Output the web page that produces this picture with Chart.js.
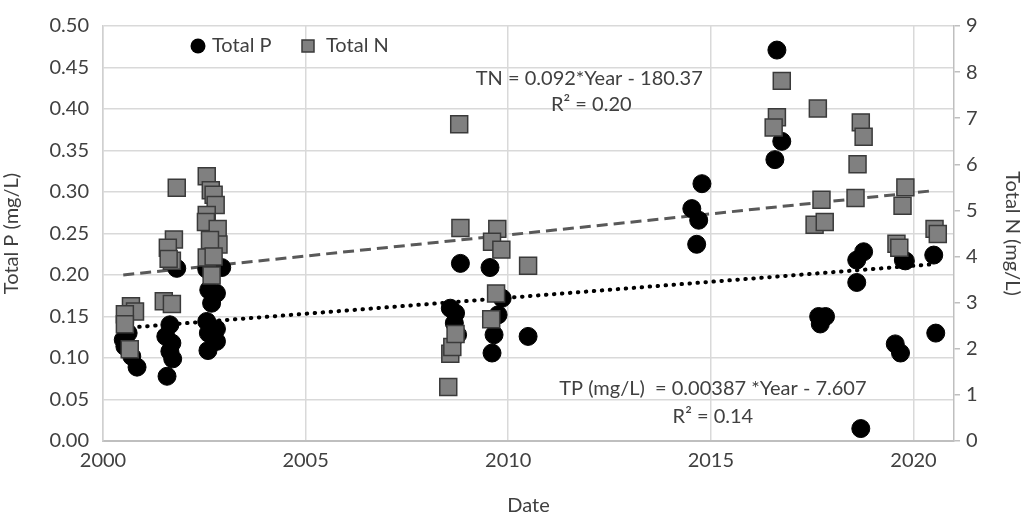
<html>
    <body style="margin:0; background:#fff;">
        <div style="width:1024px; height:518px;">
            <canvas id="myChart" width="1024" height="518"></canvas>
        </div>
    </body>

    <script src="https://cdn.jsdelivr.net/npm/chart.js@4.4.1/dist/chart.umd.min.js"></script>
    <script>
        // Total P samples (decimal year, mg/L)
        const tpYear = [
            2000.50, 2000.54, 2000.71, 2000.84, 2000.62,
            2001.65, 2001.55, 2001.70, 2001.65, 2001.72, 2001.58, 2001.82,
            2002.93, 2002.80, 2002.61, 2002.68, 2002.56, 2002.80, 2002.60, 2002.80, 2002.59, 2002.56,
            2008.82, 2008.57, 2008.70, 2008.67, 2008.75,
            2009.55, 2009.85, 2009.75, 2009.65, 2009.60, 2010.49,
            2014.78, 2014.53, 2014.70, 2014.65,
            2016.63, 2016.75, 2016.58,
            2017.66, 2017.83, 2017.70,
            2018.60, 2018.77, 2018.60, 2018.70,
            2019.55, 2019.68, 2019.75, 2019.80,
            2020.50, 2020.55
        ];
        const tpValue = [
            0.122, 0.114, 0.102, 0.089, 0.130,
            0.140, 0.126, 0.118, 0.108, 0.099, 0.078, 0.208,
            0.209, 0.178, 0.182, 0.166, 0.144, 0.135, 0.130, 0.120, 0.109, 0.207,
            0.214, 0.160, 0.154, 0.142, 0.128,
            0.209, 0.172, 0.152, 0.128, 0.106, 0.126,
            0.310, 0.280, 0.266, 0.237,
            0.471, 0.361, 0.339,
            0.150, 0.150, 0.141,
            0.218, 0.228, 0.191, 0.015,
            0.117, 0.106, 0.218, 0.217,
            0.224, 0.130
        ];

        // Total N samples (decimal year, mg/L)
        const tnYear = [
            2000.69, 2000.79, 2000.54, 2000.54, 2000.66,
            2001.50, 2001.70, 2001.82, 2001.75, 2001.60, 2001.70, 2001.62,
            2002.56, 2002.66, 2002.73, 2002.78, 2002.56, 2002.54, 2002.83, 2002.85, 2002.64, 2002.56, 2002.73, 2002.68,
            2008.79, 2008.82, 2008.52, 2008.57, 2008.62, 2008.70,
            2009.73, 2009.60, 2009.83, 2009.70, 2009.58, 2010.49,
            2016.75, 2016.63, 2016.55, 2017.64,
            2018.70, 2018.77, 2018.62,
            2017.73, 2017.56, 2017.81, 2018.57,
            2019.80, 2019.73, 2019.58, 2019.65,
            2020.52, 2020.60
        ];
        const tnValue = [
            2.92, 2.81, 2.75, 2.53, 1.99,
            3.03, 2.97, 5.49, 4.37, 4.19, 3.91, 3.95,
            5.74, 5.44, 5.34, 5.12, 4.90, 4.75, 4.60, 4.26, 4.36, 3.98, 4.00, 3.59,
            6.87, 4.62, 1.17, 1.89, 2.04, 2.32,
            4.60, 4.32, 4.15, 3.20, 2.64, 3.80,
            7.81, 7.02, 6.80, 7.21,
            6.91, 6.60, 6.00,
            5.23, 4.69, 4.75, 5.27,
            5.50, 5.10, 4.28, 4.19,
            4.60, 4.49
        ];

        // trend line end points
        const tpTrendYear = [2000.5, 2020.5];
        const tpTrendValue = [0.136, 0.213];
        const tnTrendYear = [2000.5, 2020.5];
        const tnTrendValue = [3.60, 5.43];

        const xTicks = [2000, 2005, 2010, 2015, 2020];

        const FONT = 'Lato, "Open Sans", sans-serif';
        const TEXT = '#404040';
        const GRID = '#d9d9d9';

        const pts = (xs, ys) => xs.map((x, i) => ({x: x, y: ys[i]}));

        const data = {
            datasets: [
            {
                label: 'Total P',
                type: 'scatter',
                data: pts(tpYear, tpValue),
                yAxisID: 'y',
                pointStyle: 'circle',
                pointRadius: 9,
                backgroundColor: '#000',
                borderColor: '#000',
                borderWidth: 1,
                order: 2
            },
            {
                label: 'Total N',
                type: 'scatter',
                data: pts(tnYear, tnValue),
                yAxisID: 'y2',
                pointStyle: 'rect',
                pointRadius: 12,
                backgroundColor: '#808080',
                borderColor: '#3a3a3a',
                borderWidth: 1.5,
                order: 1
            },
            {
                label: 'TP trend',
                type: 'line',
                data: pts(tpTrendYear, tpTrendValue),
                yAxisID: 'y',
                borderColor: '#000',
                borderWidth: 4,
                borderDash: [0.5, 7.5],
                borderCapStyle: 'round',
                pointRadius: 0,
                fill: false,
                order: 3
            },
            {
                label: 'TN trend',
                type: 'line',
                data: pts(tnTrendYear, tnTrendValue),
                yAxisID: 'y2',
                borderColor: '#595959',
                borderWidth: 3,
                borderDash: [11, 6],
                pointRadius: 0,
                fill: false,
                order: 4
            }
        ]
        };

        const notes = {
            id: 'notes',
            afterDraw: (chart) => {
                const ctx = chart.ctx;
                const x = chart.scales.x, y = chart.scales.y;
                ctx.save();
                ctx.fillStyle = TEXT;
                ctx.font = '20px ' + FONT;
                ctx.textAlign = 'center';
                ctx.textBaseline = 'middle';
                ctx.fillText('TN = 0.092*Year - 180.37', x.getPixelForValue(2012.0), y.getPixelForValue(0.437));
                ctx.fillText('R\u00b2 = 0.20', x.getPixelForValue(2012.05), y.getPixelForValue(0.405));
                ctx.fillText('TP (mg/L)  = 0.00387 *Year - 7.607', x.getPixelForValue(2015.05), y.getPixelForValue(0.0635));
                ctx.fillText('R\u00b2 = 0.14', x.getPixelForValue(2015.05), y.getPixelForValue(0.030));

                // legend inside the plot
                const ly = 46;
                ctx.textAlign = 'left';
                ctx.fillStyle = '#000';
                ctx.beginPath();
                ctx.arc(198, ly, 7.5, 0, Math.PI * 2);
                ctx.fill();
                ctx.fillStyle = TEXT;
                ctx.fillText(chart.data.datasets[0].label, 212, ly);
                ctx.fillStyle = '#808080';
                ctx.strokeStyle = '#3a3a3a';
                ctx.lineWidth = 1.5;
                ctx.fillRect(302, ly - 6, 12, 12);
                ctx.strokeRect(302, ly - 6, 12, 12);
                ctx.fillStyle = TEXT;
                ctx.fillText(chart.data.datasets[1].label, 326, ly);
                ctx.restore();
            }
        };

        const config = {
        type: 'scatter',
        data: data,
        options: {
            responsive: false,
            animation: false,
            layout: { padding: { top: 19, right: 0, left: 0, bottom: 0 } },
            plugins: {
                legend: { display: false },
                tooltip: { enabled: false }
            },
            scales: {
                x: {
                    type: 'linear',
                    min: 2000,
                    max: 2021,
                    afterBuildTicks: (s) => { s.ticks = xTicks.map(v => ({value: v})); },
                    afterFit: (s) => { s.height = 77; },
                    ticks: {
                        color: TEXT,
                        font: { family: FONT, size: 20 },
                        padding: 8,
                        maxRotation: 0,
                        callback: (v) => String(v)
                    },
                    grid: { color: GRID, lineWidth: 1.5, tickLength: 0 },
                    border: { color: '#bfbfbf', width: 2 },
                    title: {
                        display: true,
                        text: 'Date',
                        color: TEXT,
                        font: { family: FONT, size: 20 },
                        padding: { top: 4, bottom: 0 }
                    }
                },
                y: {
                    position: 'left',
                    min: 0,
                    max: 0.5,
                    afterFit: (s) => { s.width = 103; },
                    ticks: {
                        stepSize: 0.05,
                        color: TEXT,
                        font: { family: FONT, size: 20 },
                        padding: 14,
                        callback: (v) => v.toFixed(2)
                    },
                    grid: { color: GRID, lineWidth: 1.5, tickLength: 0 },
                    border: { color: '#d0d0d0', width: 1.5 },
                    title: {
                        display: true,
                        text: 'Total P (mg/L)',
                        color: TEXT,
                        font: { family: FONT, size: 20 },
                        padding: { top: 0, bottom: 0 }
                    }
                },
                y2: {
                    position: 'right',
                    min: 0,
                    max: 9,
                    afterFit: (s) => { s.width = 70; },
                    ticks: {
                        stepSize: 1,
                        color: TEXT,
                        font: { family: FONT, size: 20 },
                        padding: 6
                    },
                    grid: { drawOnChartArea: false, color: '#bfbfbf', lineWidth: 1.5, tickLength: 6 },
                    border: { color: '#bfbfbf', width: 1.5 },
                    title: {
                        display: true,
                        text: 'Total N (mg/L)',
                        color: TEXT,
                        font: { family: FONT, size: 20 },
                        padding: { top: 0, bottom: 0 }
                    }
                }
            }
        },
        plugins: [notes]
        };
        var ctx = document.getElementById('myChart').getContext('2d');
        var myChart = new Chart(ctx, config);
    </script>
</html>
